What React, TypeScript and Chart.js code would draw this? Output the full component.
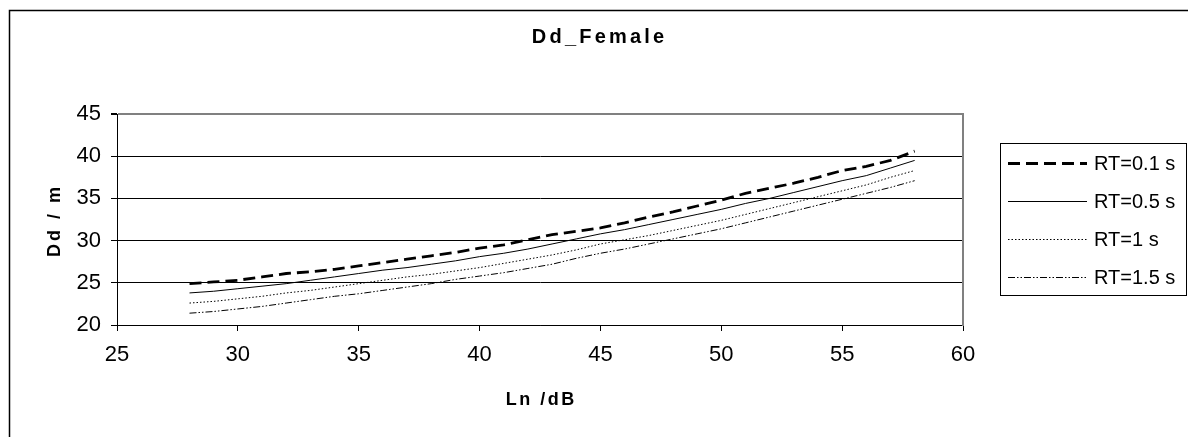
import React, { useEffect, useRef } from 'react';
import { Chart, registerables } from 'chart.js';

Chart.register(...registerables);

// ---- data ----
const LN = [28, 29, 30, 31, 32, 33, 34, 35, 36, 37, 38, 39, 40, 41, 42, 43, 44, 45, 46, 47, 48, 49, 50, 51, 52, 53, 54, 55, 56, 57, 58];
const RT01 = [24.9, 25.1, 25.3, 25.7, 26.1, 26.3, 26.6, 27.0, 27.4, 27.8, 28.2, 28.6, 29.1, 29.5, 30.1, 30.7, 31.1, 31.5, 32.1, 32.8, 33.4, 34.1, 34.8, 35.6, 36.2, 36.8, 37.5, 38.3, 38.8, 39.5, 40.6];
const RT05 = [23.8, 24.0, 24.3, 24.6, 24.9, 25.3, 25.7, 26.1, 26.5, 26.8, 27.2, 27.6, 28.1, 28.5, 29.0, 29.6, 30.2, 30.8, 31.3, 31.9, 32.5, 33.1, 33.7, 34.4, 35.0, 35.7, 36.4, 37.1, 37.7, 38.6, 39.5];
const RT1 = [22.6, 22.8, 23.1, 23.4, 23.8, 24.1, 24.5, 24.9, 25.3, 25.7, 26.0, 26.4, 26.8, 27.3, 27.8, 28.3, 28.9, 29.6, 30.1, 30.6, 31.2, 31.8, 32.4, 33.1, 33.8, 34.5, 35.2, 35.9, 36.6, 37.5, 38.3];
const RT15 = [21.4, 21.6, 21.9, 22.2, 22.6, 23.0, 23.4, 23.7, 24.1, 24.5, 24.9, 25.4, 25.8, 26.2, 26.7, 27.2, 27.9, 28.5, 29.0, 29.6, 30.2, 30.8, 31.4, 32.1, 32.8, 33.5, 34.2, 34.9, 35.6, 36.3, 37.1];
const SERIES_LABELS = ['RT=0.1 s', 'RT=0.5 s', 'RT=1 s', 'RT=1.5 s'];
const X_TICKS = [25, 30, 35, 40, 45, 50, 55, 60];
const Y_TICKS = [20, 25, 30, 35, 40, 45];
const TITLE = 'Dd_Female';
const X_TITLE = 'Ln /dB';
const Y_TITLE = 'Dd / m';

const FONT = '"Liberation Sans", Arial, sans-serif';
const W = 1188;
const H = 437;

const toPoints = (ys: number[]) => LN.map((x, i) => ({ x, y: ys[i] }));

const spacedText = (ctx: any, text: string, x: number, y: number, spacing: number) => {
  ctx.letterSpacing = `${spacing}px`;
  ctx.fillText(text, x + spacing / 2, y);
  ctx.letterSpacing = '0px';
};

const decorPlugin = {
  id: 'decor',
  afterDraw(chart: any) {
    const ctx = chart.ctx as CanvasRenderingContext2D;
    const area = chart.chartArea;
    ctx.save();
    // outer frame (left & top visible)
    ctx.strokeStyle = '#000';
    ctx.lineWidth = 1.5;
    ctx.strokeRect(9.5, 10.5, 1400, 800);

    ctx.fillStyle = '#000';
    ctx.textAlign = 'center';
    ctx.textBaseline = 'alphabetic';

    // chart title
    ctx.font = `bold 20px ${FONT}`;
    spacedText(ctx, TITLE, 598, 43, 3.2);

    // x axis title
    ctx.font = `bold 18px ${FONT}`;
    ctx.textBaseline = 'middle';
    spacedText(ctx, X_TITLE, (area.left + area.right) / 2, 400, 2.5);

    // y axis title
    ctx.save();
    ctx.translate(55, 222);
    ctx.rotate(-Math.PI / 2);
    spacedText(ctx, Y_TITLE, 0, 0, 3);
    ctx.restore();

    // legend box
    const bx = 1000.5, by = 143.5, bw = 186, bh = 152;
    ctx.strokeStyle = '#000';
    ctx.lineWidth = 1;
    ctx.strokeRect(bx, by, bw, bh);
    const rows = [163, 201, 239, 277];
    chart.data.datasets.forEach((ds: any, i: number) => {
      const y = rows[i] + 0.5;
      ctx.save();
      ctx.strokeStyle = ds.borderColor;
      ctx.lineWidth = ds.borderWidth;
      ctx.setLineDash(ds.borderDash || []);
      ctx.beginPath();
      ctx.moveTo(1008, y);
      ctx.lineTo(1087, y);
      ctx.stroke();
      ctx.restore();
      ctx.fillStyle = '#000';
      ctx.font = `20px ${FONT}`;
      ctx.textAlign = 'left';
      ctx.textBaseline = 'alphabetic';
      ctx.fillText(ds.label, 1094, rows[i] + 7);
    });
    ctx.restore();
  },
};

export default function App() {
  const ref = useRef<HTMLCanvasElement | null>(null);

  useEffect(() => {
    if (!ref.current) return;
    const chart = new Chart(ref.current, {
      type: 'line',
      data: {
        datasets: [
          { label: SERIES_LABELS[0], data: toPoints(RT01), borderColor: '#000', borderWidth: 2.8, borderDash: [12, 6], pointRadius: 0, fill: false, tension: 0 },
          { label: SERIES_LABELS[1], data: toPoints(RT05), borderColor: '#000', borderWidth: 1, borderDash: [], pointRadius: 0, fill: false, tension: 0 },
          { label: SERIES_LABELS[2], data: toPoints(RT1), borderColor: '#000', borderWidth: 1, borderDash: [1.5, 2], pointRadius: 0, fill: false, tension: 0 },
          { label: SERIES_LABELS[3], data: toPoints(RT15), borderColor: '#000', borderWidth: 1, borderDash: [7, 2, 1.5, 2, 1.5, 2], pointRadius: 0, fill: false, tension: 0 },
        ],
      },
      options: {
        responsive: false,
        animation: false,
        devicePixelRatio: 1,
        layout: { padding: { top: 114, left: 0, right: 0, bottom: 0 } },
        plugins: {
          legend: { display: false },
          title: { display: false },
          tooltip: { enabled: false },
        },
        scales: {
          x: {
            type: 'linear',
            min: X_TICKS[0],
            max: X_TICKS[X_TICKS.length - 1],
            afterBuildTicks: (s: any) => { s.ticks = X_TICKS.map((v) => ({ value: v })); },
            afterFit: (s: any) => { s.height = 112; },
            ticks: { color: '#000', font: { family: FONT, size: 22 }, padding: 11, maxRotation: 0, autoSkip: false },
            grid: { drawOnChartArea: false, drawTicks: true, tickLength: 6, tickColor: '#000' },
            border: { display: true, color: '#000', width: 1 },
          },
          y: {
            type: 'linear',
            min: Y_TICKS[0],
            max: Y_TICKS[Y_TICKS.length - 1],
            afterBuildTicks: (s: any) => { s.ticks = Y_TICKS.map((v) => ({ value: v })); },
            afterFit: (s: any) => { s.width = 117; },
            ticks: { color: '#000', font: { family: FONT, size: 22 }, padding: 10, autoSkip: false },
            grid: {
              drawOnChartArea: true,
              drawTicks: true,
              tickLength: 6,
              tickColor: '#000',
              color: (c: any) => (c.tick && c.tick.value === 45 ? '#808080' : '#000'),
              lineWidth: (c: any) => (c.tick && c.tick.value === 45 ? 2 : 1),
            },
            border: { display: true, color: '#000', width: 1 },
          },
          yR: {
            type: 'linear',
            position: 'right',
            min: Y_TICKS[0],
            max: Y_TICKS[Y_TICKS.length - 1],
            afterFit: (s: any) => { s.width = W - 963; },
            ticks: { display: false },
            grid: { display: false, drawTicks: false },
            border: { display: true, color: '#808080', width: 2 },
          },
        },
      },
      plugins: [decorPlugin],
    } as any);
    return () => chart.destroy();
  }, []);

  return (
    <div style={{ position: 'fixed', left: 0, top: 0, width: W, height: H, background: '#fff' }}>
      <canvas ref={ref} width={W} height={H} style={{ width: W, height: H, display: 'block' }} />
    </div>
  );
}
